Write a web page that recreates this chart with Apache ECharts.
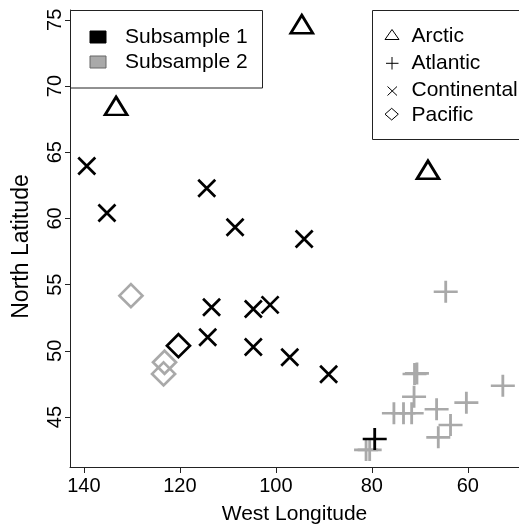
<!DOCTYPE html>
<html>
<head>
<meta charset="utf-8">
<script src="https://cdn.jsdelivr.net/npm/echarts@6/dist/echarts.min.js"></script>
<style>
html,body{margin:0;padding:0;background:#fff;}
#chart{width:519px;height:531px;}
</style>
</head>
<body>
<div id="chart"></div>
<script>
// ---- data (West longitude, North latitude, subsample) ----
const arcticLon = [133.3, 94.6, 68.3];
const arcticLat = [68.5, 74.67, 63.67];
const arcticSub = [1, 1, 1];

const atlanticLon = [64.6, 71.1, 70.6, 71.2, 75.4, 73.4, 71.7, 66.5, 60.3, 52.7, 63.6, 66.15, 79.4, 81.2, 80.45];
const atlanticLat = [54.47, 48.25, 48.3, 46.54, 45.29, 45.29, 45.29, 45.59, 46.09, 47.37, 44.4, 43.47, 43.35, 42.52, 42.52];
const atlanticSub = [2, 2, 2, 2, 2, 2, 2, 2, 2, 2, 2, 2, 1, 2, 2];

const continentalLon = [139.4, 135.2, 114.4, 108.5, 94.1, 113.4, 114.2, 104.7, 101.2, 104.7, 97.1, 89.0];
const continentalLat = [63.96, 60.41, 62.28, 59.33, 58.45, 53.29, 51.03, 53.16, 53.47, 50.29, 49.52, 48.23];
const continentalSub = [1, 1, 1, 1, 1, 1, 1, 1, 1, 1, 1, 1];

const pacificLon = [130.2, 120.3, 123.2, 123.4];
const pacificLat = [54.17, 50.39, 49.14, 48.26];
const pacificSub = [2, 1, 2, 2];

const regionNames = ['Arctic', 'Atlantic', 'Continental', 'Pacific'];
const subsampleNames = ['Subsample 1', 'Subsample 2'];
const xTicks = [60, 80, 100, 120, 140];
const yTicks = [45, 50, 55, 60, 65, 70, 75];

// ---- styling ----
const subColors = {1: '#000000', 2: '#a9a9a9'};
const symbols = {
  Arctic: {path: 'path://M0,-1 L0.866,0.5 L-0.866,0.5 Z', size: [22, 18]},
  Atlantic: {path: 'path://M0,-1 L0,1 M-1,0 L1,0', size: [24, 22]},
  Continental: {path: 'path://M-1,-1 L1,1 M-1,1 L1,-1', size: [17, 17]},
  Pacific: {path: 'path://M0,-1 L1,0 L0,1 L-1,0 Z', size: [23, 23]}
};
const regionData = {
  Arctic: [arcticLon, arcticLat, arcticSub],
  Atlantic: [atlanticLon, atlanticLat, atlanticSub],
  Continental: [continentalLon, continentalLat, continentalSub],
  Pacific: [pacificLon, pacificLat, pacificSub]
};

const series = [];
[2, 1].forEach(function (sub) {
  regionNames.forEach(function (reg) {
    const [lon, lat, s] = regionData[reg];
    const data = [];
    for (let i = 0; i < lon.length; i++) if (s[i] === sub) data.push([lon[i], lat[i]]);
    if (!data.length) return;
    series.push({
      type: 'scatter',
      name: reg + ' ' + subsampleNames[sub - 1],
      data: data,
      symbol: symbols[reg].path,
      symbolSize: symbols[reg].size,
      silent: true,
      itemStyle: {color: 'rgba(0,0,0,0)', borderColor: subColors[sub], borderWidth: 2.7, opacity: 1},
      emphasis: {disabled: true}
    });
  });
});

const FONT = '"Liberation Sans", Arial, sans-serif';
const axisColor = '#222';

const chart = echarts.init(document.getElementById('chart'), null, {renderer: 'canvas'});
const legendText = function (t, x, y) {
  return {type: 'text', x: x, y: y, z: 100,
    style: {text: t, font: '21px ' + FONT, fill: '#000', textAlign: 'left', textVerticalAlign: 'middle'}};
};
chart.setOption({
  animation: false,
  backgroundColor: '#fff',
  grid: {left: 70, right: -11, top: 10, bottom: 64, containLabel: false},
  xAxis: {
    type: 'value', inverse: true, min: 49.33, max: 142.9,
    name: 'West Longitude', nameLocation: 'middle', nameGap: 37,
    nameTextStyle: {fontSize: 21, fontFamily: FONT, color: '#000'},
    axisLine: {show: true, onZero: false, lineStyle: {color: axisColor, width: 1}},
    axisTick: {show: true, customValues: xTicks, length: 6, lineStyle: {color: axisColor}},
    axisLabel: {customValues: xTicks, fontSize: 20, fontFamily: FONT, color: '#000', margin: 9},
    splitLine: {show: false}
  },
  yAxis: {
    type: 'value', min: 41.23, max: 75.74,
    name: 'North Latitude', nameLocation: 'middle', nameGap: 37,
    nameTextStyle: {fontSize: 23, fontFamily: FONT, color: '#000', padding: [0, 16, 0, 0]},
    axisLine: {show: true, onZero: false, lineStyle: {color: axisColor, width: 1}},
    axisTick: {show: true, customValues: yTicks, length: 5, lineStyle: {color: axisColor}},
    axisLabel: {customValues: yTicks, rotate: 90, fontSize: 20, fontFamily: FONT, color: '#000', margin: 5},
    splitLine: {show: false}
  },
  series: series,
  graphic: [
    // Subsample legend
    {type: 'rect', z: 99, shape: {x: 70.5, y: 10.5, width: 192, height: 77.5},
      style: {fill: '#fff', stroke: axisColor, lineWidth: 1}},
    {type: 'rect', z: 100, shape: {x: 90, y: 31, width: 16, height: 12},
      style: {fill: subColors[1], stroke: '#000', lineWidth: 1}},
    {type: 'rect', z: 100, shape: {x: 90, y: 56, width: 16, height: 12},
      style: {fill: subColors[2], stroke: '#666', lineWidth: 1}},
    legendText(subsampleNames[0], 125, 37),
    legendText(subsampleNames[1], 125, 62.5),
    // Region legend
    {type: 'rect', z: 99, shape: {x: 372.5, y: 10.5, width: 200, height: 129},
      style: {fill: '#fff', stroke: axisColor, lineWidth: 1}},
    {type: 'polygon', z: 100, shape: {points: [[392, 29.5], [399, 39.5], [385, 39.5]]},
      style: {fill: 'none', stroke: '#000', lineWidth: 1}},
    {type: 'line', z: 100, shape: {x1: 392, y1: 57, x2: 392, y2: 69.5}, style: {stroke: '#000', lineWidth: 1}},
    {type: 'line', z: 100, shape: {x1: 386, y1: 63.3, x2: 398.5, y2: 63.3}, style: {stroke: '#000', lineWidth: 1}},
    {type: 'line', z: 100, shape: {x1: 387.5, y1: 86.5, x2: 397, y2: 95.5}, style: {stroke: '#000', lineWidth: 1}},
    {type: 'line', z: 100, shape: {x1: 387.5, y1: 95.5, x2: 397, y2: 86.5}, style: {stroke: '#000', lineWidth: 1}},
    {type: 'polygon', z: 100, shape: {points: [[391.7, 108.3], [398.3, 114.2], [391.7, 120], [385, 114.2]]},
      style: {fill: 'none', stroke: '#000', lineWidth: 1}},
    legendText(regionNames[0], 411.5, 36),
    legendText(regionNames[1], 411.5, 63),
    legendText(regionNames[2], 411.5, 90),
    legendText(regionNames[3], 411.5, 115.5)
  ]
});
</script>
</body>
</html>
